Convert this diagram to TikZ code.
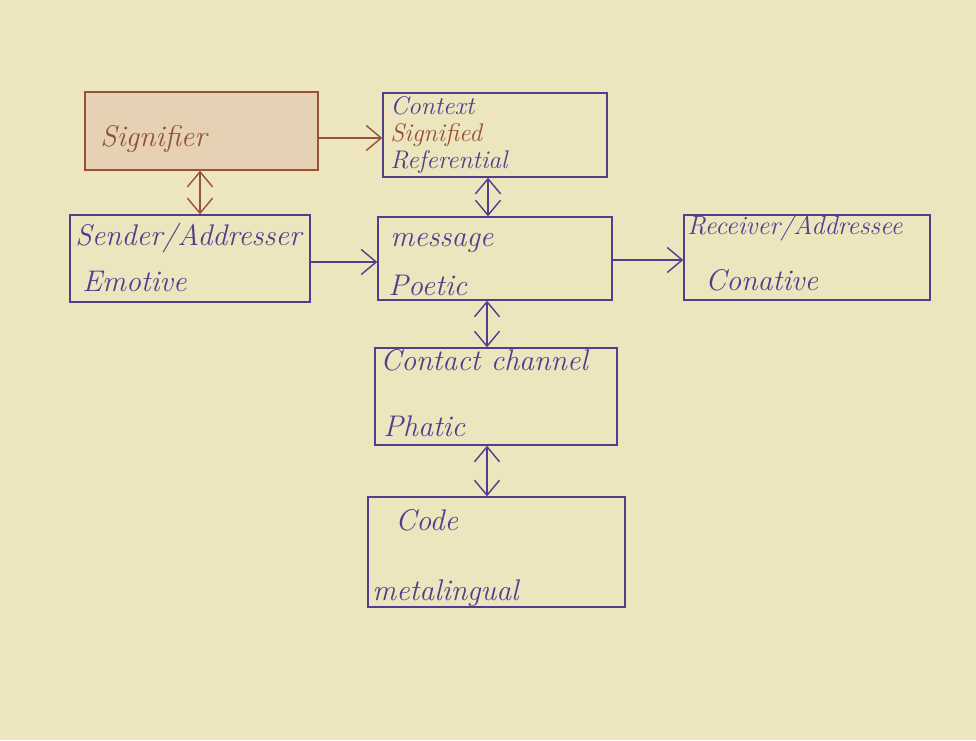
\documentclass[tikz,border=0pt]{standalone}
\usetikzlibrary{arrows.meta,calc}
\definecolor{paper}{RGB}{237,229,190}
\definecolor{ink}{RGB}{82,62,140}
\definecolor{brownink}{RGB}{150,82,52}
\definecolor{sigfill}{RGB}{230,209,180}
\begin{document}
\begin{tikzpicture}[x=0.02cm,y=-0.02cm,
  box/.style={draw=ink,line width=0.8pt,rectangle,inner sep=0pt},
  sigbox/.style={draw=brownink,fill=sigfill,line width=0.8pt,rectangle,inner sep=0pt},
  lbl/.style={anchor=base west,inner sep=0pt,text=ink,font=\fontsize{17}{20}\selectfont\itshape},
  smalllbl/.style={lbl,font=\fontsize{14.5}{17}\selectfont\itshape},
  arr/.style={draw=ink,line width=0.8pt,-{Straight Barb[length=3mm,width=5mm]}},
  darr/.style={draw=ink,line width=0.8pt,{Straight Barb[length=3mm,width=5mm]}-{Straight Barb[length=3mm,width=5mm]}},
  brarr/.style={draw=brownink,line width=0.8pt,-{Straight Barb[length=3mm,width=5mm]}},
  brdarr/.style={draw=brownink,line width=0.8pt,{Straight Barb[length=3mm,width=5mm]}-{Straight Barb[length=3mm,width=5mm]}}]
\fill[paper] (0,0) rectangle (976,740);
\useasboundingbox (0,0) rectangle (976,740);

% boxes
\node[sigbox,minimum width=4.66cm,minimum height=1.56cm] (sig) at (201.5,131) {};
\node[box,minimum width=4.48cm,minimum height=1.68cm] (ctx) at (495,135) {};
\node[box,minimum width=4.8cm,minimum height=1.74cm] (snd) at (190,258.5) {};
\node[box,minimum width=4.68cm,minimum height=1.66cm] (msg) at (495,258.5) {};
\node[box,minimum width=4.92cm,minimum height=1.7cm] (rcv) at (807,257.5) {};
\node[box,minimum width=4.84cm,minimum height=1.94cm] (cnt) at (496,396.5) {};
\node[box,minimum width=5.14cm,minimum height=2.2cm] (code) at (496.5,552) {};

% labels
\node[lbl,text=brownink] (tsig) at (100,146) {Signifier};
\node[smalllbl] (tctx1) at (390,114) {Context};
\node[smalllbl,text=brownink] (tctx2) at (390,141) {Signified};
\node[smalllbl] (tctx3) at (390,168) {Referential};
\node[lbl] (tsnd1) at (75,245) {Sender/Addresser};
\node[lbl] (tsnd2) at (82,291) {Emotive};
\node[lbl] (tmsg1) at (390,246) {message};
\node[lbl] (tmsg2) at (388,295) {Poetic};
\node[lbl,font=\fontsize{15}{18}\selectfont\itshape] (trcv1) at (687,234) {Receiver/Addressee};
\node[lbl] (trcv2) at (705,290) {Conative};
\node[lbl] (tcnt1) at (380,370) {Contact channel};
\node[lbl] (tcnt2) at (383,436) {Phatic};
\node[lbl] (tcode1) at (395,530) {Code};
\node[lbl] (tcode2) at (372,600) {metalingual};

% connector start points
\coordinate (c1) at ($(sig.east)+(0,7)$);
\coordinate (c2) at ($(sig.south)+(-1.5,0)$);
\coordinate (c3) at ($(ctx.south)+(-7,0)$);
\coordinate (c4) at ($(snd.east)+(0,3.5)$);
\coordinate (c5) at ($(msg.east)+(0,1.5)$);
\coordinate (c6) at ($(msg.south)+(-8,0)$);
\coordinate (c7) at ($(cnt.south)+(-9,0)$);

% connectors
\draw[brarr] (c1) -- (c1 -| ctx.west);
\draw[brdarr] (c2) -- (c2 |- snd.north);
\draw[darr] (c3) -- (c3 |- msg.north);
\draw[arr] (c4) -- (c4 -| msg.west);
\draw[arr] (c5) -- (c5 -| rcv.west);
\draw[darr] (c6) -- (c6 |- cnt.north);
\draw[darr] (c7) -- (c7 |- code.north);
\end{tikzpicture}
\end{document}
